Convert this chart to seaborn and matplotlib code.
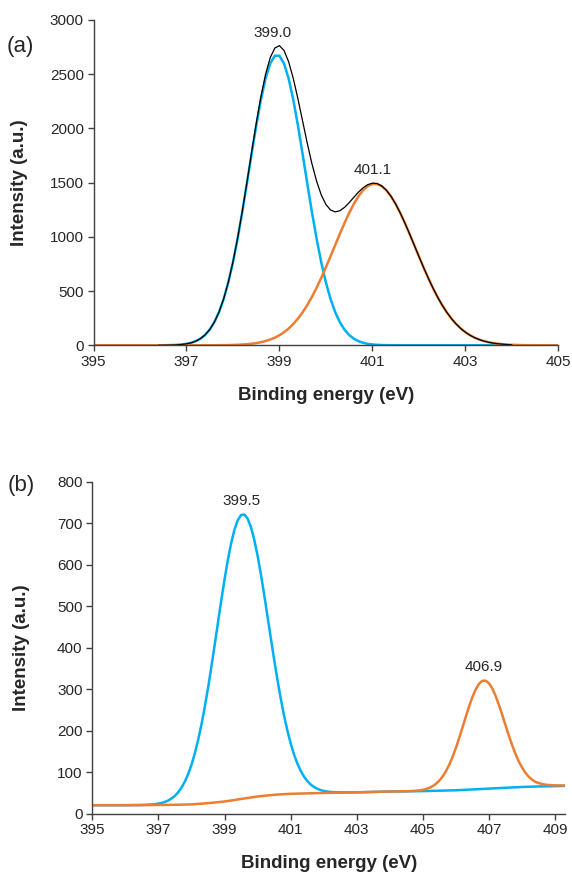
import matplotlib
matplotlib.use("Agg")
import matplotlib.pyplot as plt
import seaborn as sns

# ---- panel (a): N 1s fit, two components + envelope ----
blue_a_x = [395.0, 396.3, 396.4, 396.5, 396.6, 396.7, 396.8, 396.9,
            397.0, 397.1, 397.2, 397.3, 397.4, 397.5, 397.6, 397.7, 397.8, 397.9,
            398.0, 398.1, 398.2, 398.3, 398.4, 398.5, 398.6, 398.7, 398.8, 398.9,
            399.0, 399.1, 399.2, 399.3, 399.4, 399.5, 399.6, 399.7, 399.8, 399.9,
            400.0, 400.1, 400.2, 400.3, 400.4, 400.5, 400.6, 400.7, 400.8, 400.9,
            401.0, 401.1, 401.2, 401.3, 401.4, 401.5, 401.6, 405.0]
blue_a_y = [0, 0, 0.3, 0.6, 1.3, 2.4, 4.4, 7.8,
            13.6, 23.1, 38.1, 61.1, 95.3, 144.5, 213.3, 305.9, 426.9, 579.6,
            765.2, 982.5, 1227.0, 1490.4, 1760.7, 2023.0, 2260.7, 2457.2, 2597.5, 2670.7,
            2670.7, 2597.5, 2457.2, 2260.7, 2023.0, 1760.7, 1490.4, 1227.0, 982.5, 765.2,
            579.6, 426.9, 305.9, 213.3, 144.5, 95.3, 61.1, 38.1, 23.1, 13.6,
            7.8, 4.4, 2.4, 1.3, 0.6, 0.3, 0, 0]

orange_a_x = [395.0, 397.2, 397.3, 397.4, 397.5, 397.6, 397.7, 397.8, 397.9,
              398.0, 398.1, 398.2, 398.3, 398.4, 398.5, 398.6, 398.7, 398.8, 398.9,
              399.0, 399.1, 399.2, 399.3, 399.4, 399.5, 399.6, 399.7, 399.8, 399.9,
              400.0, 400.1, 400.2, 400.3, 400.4, 400.5, 400.6, 400.7, 400.8, 400.9,
              401.0, 401.1, 401.2, 401.3, 401.4, 401.5, 401.6, 401.7, 401.8, 401.9,
              402.0, 402.1, 402.2, 402.3, 402.4, 402.5, 402.6, 402.7, 402.8, 402.9,
              403.0, 403.1, 403.2, 403.3, 403.4, 403.5, 403.6, 403.7, 403.8, 403.9,
              404.0, 404.1, 404.2, 404.3, 404.4, 404.5, 404.6, 404.7, 404.8, 405.0]
orange_a_y = [0, 0, 0.1, 0.2, 0.4, 0.6, 0.9, 1.4, 2.1,
              3.2, 4.8, 7.0, 10.1, 14.4, 20.3, 28.3, 38.8, 52.6, 70.3,
              92.8, 120.9, 155.3, 197.1, 246.7, 304.8, 371.5, 447.0, 530.8, 622.0,
              719.3, 820.9, 924.5, 1027.6, 1127.1, 1220.1, 1303.4, 1374.2, 1429.7, 1468.0,
              1487.5, 1487.5, 1468.0, 1429.7, 1374.2, 1303.4, 1220.1, 1127.1, 1027.6, 924.5,
              820.9, 719.3, 622.0, 530.8, 447.0, 371.5, 304.8, 246.7, 197.1, 155.3,
              120.9, 92.8, 70.3, 52.6, 38.8, 28.3, 20.3, 14.4, 10.1, 7.0,
              4.8, 3.2, 2.1, 1.4, 0.9, 0.6, 0.4, 0.2, 0.1, 0]

total_a_x = [396.4, 396.5, 396.6, 396.7, 396.8, 396.9,
             397.0, 397.1, 397.2, 397.3, 397.4, 397.5, 397.6, 397.7, 397.8, 397.9,
             398.0, 398.1, 398.2, 398.3, 398.4, 398.5, 398.6, 398.7, 398.8, 398.9,
             399.0, 399.1, 399.2, 399.3, 399.4, 399.5, 399.6, 399.7, 399.8, 399.9,
             400.0, 400.1, 400.2, 400.3, 400.4, 400.5, 400.6, 400.7, 400.8, 400.9,
             401.0, 401.1, 401.2, 401.3, 401.4, 401.5, 401.6, 401.7, 401.8, 401.9,
             402.0, 402.1, 402.2, 402.3, 402.4, 402.5, 402.6, 402.7, 402.8, 402.9,
             403.0, 403.1, 403.2, 403.3, 403.4, 403.5, 403.6, 403.7, 403.8, 403.9, 404.0]
total_a_y = [0.3, 0.6, 1.3, 2.4, 4.4, 7.8,
             13.6, 23.1, 38.1, 61.2, 95.5, 144.9, 213.9, 306.8, 428.3, 581.7,
             768.4, 987.3, 1234.0, 1500.5, 1775.1, 2043.3, 2289.0, 2496.0, 2650.1, 2741.0,
             2763.5, 2718.4, 2612.5, 2457.8, 2269.7, 2065.5, 1861.9, 1674.0, 1513.3, 1387.2,
             1298.9, 1247.8, 1230.4, 1240.9, 1271.6, 1315.4, 1364.5, 1412.3, 1452.8, 1481.6,
             1495.3, 1491.9, 1470.4, 1431.0, 1374.8, 1303.7, 1220.1, 1127.1, 1027.6, 924.5,
             820.9, 719.3, 622.0, 530.8, 447.0, 371.5, 304.8, 246.7, 197.1, 155.3,
             120.9, 92.8, 70.3, 52.6, 38.8, 28.3, 20.3, 14.4, 10.1, 7.0, 4.8]

peaks_a = [(398.85, 2877, "399.0"), (401.0, 1617, "401.1")]

# ---- panel (b): two components on a stepped background ----
blue_b_x = [395.0, 396.0, 396.5, 396.8, 396.9,
            397.0, 397.1, 397.2, 397.3, 397.4, 397.5, 397.6, 397.7, 397.8, 397.9,
            398.0, 398.1, 398.2, 398.3, 398.4, 398.5, 398.6, 398.7, 398.8, 398.9,
            399.0, 399.1, 399.2, 399.3, 399.4, 399.5, 399.6, 399.7, 399.8, 399.9,
            400.0, 400.1, 400.2, 400.3, 400.4, 400.5, 400.6, 400.7, 400.8, 400.9,
            401.0, 401.1, 401.2, 401.3, 401.4, 401.5, 401.6, 401.7, 401.8, 401.9,
            402.0, 402.1, 402.2, 402.5, 403.0, 403.5, 404.0, 404.5, 405.0, 405.5,
            406.0, 406.5, 407.0, 407.5, 408.0, 408.5, 409.0, 409.3]
blue_b_y = [20.0, 20.0, 20.5, 21.8, 22.6,
            23.8, 25.5, 28.0, 31.5, 36.3, 42.7, 51.3, 62.6, 77.0, 95.0,
            117.2, 144.4, 176.5, 213.7, 255.7, 302.2, 352.5, 405.3, 459.4, 512.9,
            564.0, 610.9, 651.6, 684.2, 707.1, 719.6, 720.8, 710.8, 690.3, 660.1,
            621.8, 576.9, 527.5, 475.6, 423.1, 371.7, 322.8, 277.5, 236.6, 200.5,
            169.4, 142.9, 121.1, 103.5, 89.5, 78.6, 70.4, 64.3, 59.8, 56.6,
            54.4, 52.9, 51.9, 50.8, 51.0, 52.0, 53.0, 53.5, 54.0, 55.0,
            56.0, 58.0, 60.0, 62.0, 64.0, 65.2, 66.0, 66.5]

orange_b_x = [395.0, 396.0, 396.5, 397.0, 397.5, 397.75, 398.0, 398.25, 398.5, 398.75,
              399.0, 399.25, 399.5, 399.75, 400.0, 400.25, 400.5, 400.75, 401.0, 401.5,
              402.0, 402.5, 403.0, 403.5, 404.0,
              404.5, 404.6, 404.7, 404.8, 404.9, 405.0, 405.1, 405.2, 405.3, 405.4,
              405.5, 405.6, 405.7, 405.8, 405.9, 406.0, 406.1, 406.2, 406.3, 406.4,
              406.5, 406.6, 406.7, 406.8, 406.9, 407.0, 407.1, 407.2, 407.3, 407.4,
              407.5, 407.6, 407.7, 407.8, 407.9, 408.0, 408.1, 408.2, 408.3, 408.4,
              408.5, 408.6, 408.7, 408.8, 408.9, 409.0, 409.1, 409.2, 409.3]
orange_b_y = [20.0, 20.0, 20.2, 20.5, 21.0, 21.5, 22.0, 23.4, 25.0, 26.9,
              29.0, 31.9, 35.0, 38.0, 41.0, 43.1, 45.0, 46.4, 47.5, 48.5,
              49.5, 50.3, 51.0, 52.0, 53.0,
              53.7, 54.0, 54.3, 54.9, 55.8, 57.0, 59.1, 62.0, 66.1, 71.8,
              79.4, 89.5, 102.2, 117.9, 136.6, 158.2, 182.2, 207.7, 233.6, 258.5,
              281.0, 299.5, 312.8, 319.9, 320.3, 314.0, 301.5, 283.8, 262.1, 238.0,
              212.9, 188.2, 165.0, 144.0, 125.9, 110.8, 98.6, 88.9, 81.8, 76.5,
              73.5, 71.3, 69.5, 68.7, 68.2, 67.9, 67.7, 67.6, 67.5]

peaks_b = [(399.52, 754, "399.5"), (406.83, 354, "406.9")]

BLUE = "#00B0F0"
ORANGE = "#ED7D31"
TXT = "#262626"

sns.set_theme(style="ticks")
plt.rcParams['font.family'] = ['Liberation Sans', 'DejaVu Sans']
plt.rcParams['axes.edgecolor'] = '#404040'
plt.rcParams['xtick.color'] = '#404040'
plt.rcParams['ytick.color'] = '#404040'
plt.rcParams['xtick.labelcolor'] = TXT
plt.rcParams['ytick.labelcolor'] = TXT

W, H = 572, 874
fig = plt.figure(figsize=(W / 100, H / 100), dpi=100)

# axes boxes in pixels: left, top, right, bottom
box_a = (93.5, 20.0, 558.3, 345.3)
box_b = (92.3, 481.7, 565.0, 813.5)


def make_ax(box):
    l, t, r, b = box
    return fig.add_axes([l / W, 1 - b / H, (r - l) / W, (b - t) / H])


def style_ax(ax, xlim, xticks, ylim, yticks, box, xlab_y, ylab_x):
    ax.set_xlim(*xlim)
    ax.set_ylim(*ylim)
    ax.set_xticks(xticks)
    ax.set_yticks(yticks)
    ax.tick_params(direction='out', length=4, width=1, labelsize=11, pad=3)
    for s in ['left', 'bottom']:
        ax.spines[s].set_linewidth(1)
    sns.despine(ax=ax)
    l, t, r, b = box
    ax.set_xlabel("Binding energy (eV)", fontsize=13.5, fontweight='bold', color=TXT, va='center')
    ax.set_ylabel("Intensity (a.u.)", fontsize=13.5, fontweight='bold', color=TXT, va='center')
    ax.xaxis.set_label_coords(0.5, (b - xlab_y) / (b - t))
    ax.yaxis.set_label_coords((ylab_x - l) / (r - l), 0.5)


# panel (a)
ax = make_ax(box_a)
sns.lineplot(x=blue_a_x, y=blue_a_y, ax=ax, color=BLUE, linewidth=1.8)
sns.lineplot(x=orange_a_x, y=orange_a_y, ax=ax, color=ORANGE, linewidth=1.8)
sns.lineplot(x=total_a_x, y=total_a_y, ax=ax, color="black", linewidth=0.9)
for px, py, lab in peaks_a:
    ax.text(px, py, lab, ha='center', va='center', fontsize=11, color=TXT)
style_ax(ax, (395, 405), [395, 397, 399, 401, 403, 405], (0, 3000),
         range(0, 3001, 500), box_a, 395, 20)

# panel (b)
ax = make_ax(box_b)
sns.lineplot(x=blue_b_x, y=blue_b_y, ax=ax, color=BLUE, linewidth=1.8)
sns.lineplot(x=orange_b_x, y=orange_b_y, ax=ax, color=ORANGE, linewidth=1.8)
for px, py, lab in peaks_b:
    ax.text(px, py, lab, ha='center', va='center', fontsize=11, color=TXT)
style_ax(ax, (395, 409.3), [395, 397, 399, 401, 403, 405, 407, 409], (0, 800),
         range(0, 801, 100), box_b, 863, 22)

fig.text(20.5 / W, 1 - 46.5 / H, "(a)", fontsize=16, ha='center', va='center', color=TXT)
fig.text(21 / W, 1 - 486 / H, "(b)", fontsize=16, ha='center', va='center', color=TXT)

fig.savefig("out.png", dpi=100)
